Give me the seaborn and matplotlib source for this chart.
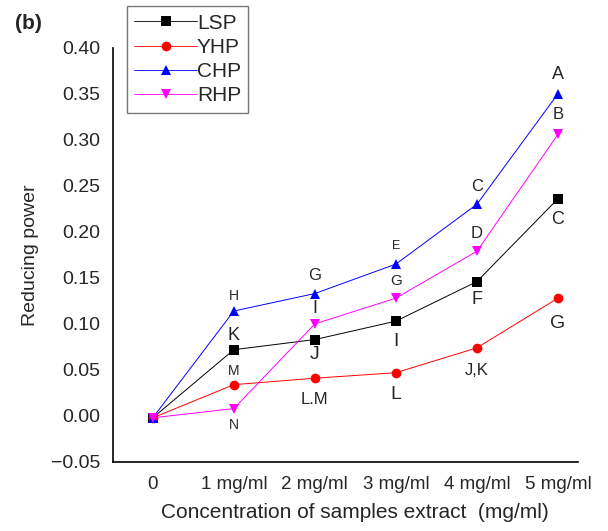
import matplotlib
matplotlib.use('Agg')
import matplotlib.pyplot as plt
import pandas as pd
import seaborn as sns

# Data
concentrations = ['0', '1 mg/ml', '2 mg/ml', '3 mg/ml', '4 mg/ml', '5 mg/ml']
lsp = [-0.002, 0.072, 0.083, 0.103, 0.146, 0.236]
yhp = [-0.002, 0.034, 0.041, 0.047, 0.074, 0.128]
chp = [-0.002, 0.114, 0.133, 0.165, 0.230, 0.350]
rhp = [-0.002, 0.008, 0.100, 0.128, 0.179, 0.306]

# significance letters (index 0 has none)
lsp_letters = ['', 'K', 'J', 'I', 'F', 'C']
yhp_letters = ['', 'M', 'L.M', 'L', 'J,K', 'G']
chp_letters = ['', 'H', 'G', 'E', 'C', 'A']
rhp_letters = ['', 'N', 'I', 'G', 'D', 'B']

series = {'LSP': lsp, 'YHP': yhp, 'CHP': chp, 'RHP': rhp}
colors = {'LSP': 'black', 'YHP': 'red', 'CHP': 'blue', 'RHP': 'magenta'}
markers = {'LSP': 's', 'YHP': 'o', 'CHP': '^', 'RHP': 'v'}

df = pd.DataFrame([
    {'x': i, 'sample': name, 'value': v}
    for name, vals in series.items() for i, v in enumerate(vals)
])

sns.set_style('white')
plt.rcParams['font.family'] = ['Liberation Sans', 'DejaVu Sans']

fig = plt.figure(figsize=(6.08, 5.31), dpi=100)
ax = fig.add_axes([0.186, 0.130, 0.765, 0.780])

sns.lineplot(data=df, x='x', y='value', hue='sample', style='sample',
             palette=colors, markers=markers, dashes=False, linewidth=0.7,
             markersize=7, markeredgewidth=0, ax=ax, legend=False)

# letters: (offset in points, fontsize)
def put(vals, letters, places):
    for i, (v, t) in enumerate(zip(vals, letters)):
        if not t:
            continue
        dy, size = places[i]
        ax.annotate(t, (i, v), xytext=(0, dy), textcoords='offset points',
                    ha='center', va='center', fontsize=size)

put(chp, chp_letters, {1: (11, 10), 2: (13, 12), 3: (13, 9), 4: (13, 12), 5: (14, 13)})
put(rhp, rhp_letters, {1: (-12, 10), 2: (11, 13), 3: (12, 11), 4: (13, 12), 5: (14, 12)})
put(lsp, lsp_letters, {1: (10, 13), 2: (-11, 14), 3: (-15, 14), 4: (-13, 13), 5: (-15, 13)})
put(yhp, yhp_letters, {1: (10, 10), 2: (-15, 12), 3: (-16, 14), 4: (-16, 12), 5: (-18, 14)})

ax.set_xlim(-0.49, 5.25)
ax.set_ylim(-0.05, 0.40)
ax.set_xticks(range(len(concentrations)))
ax.set_xticklabels(concentrations)
ax.set_yticks([-0.05, 0.0, 0.05, 0.10, 0.15, 0.20, 0.25, 0.30, 0.35, 0.40])
ax.set_yticklabels(['\u22120.05', '0.00', '0.05', '0.10', '0.15', '0.20',
                    '0.25', '0.30', '0.35', '0.40'])
ax.tick_params(axis='y', labelsize=14, length=0, pad=9)
ax.tick_params(axis='x', labelsize=13.5, length=0, pad=10)
ax.set_xlabel('Concentration of samples extract  (mg/ml)', fontsize=15, labelpad=9)
ax.xaxis.set_label_coords(0.52, -0.1)
ax.xaxis.label.set_va('top')
ax.set_ylabel('Reducing power', fontsize=14, labelpad=9)
for s in ['top', 'right']:
    ax.spines[s].set_visible(False)
for s in ['left', 'bottom']:
    ax.spines[s].set_color('black')
    ax.spines[s].set_linewidth(1.2)

handles = [plt.Line2D([], [], color=colors[n], marker=markers[n], markersize=7,
                      markeredgewidth=0, linewidth=0.6, label=n) for n in series]
leg = ax.legend(handles=handles, loc='upper left', bbox_to_anchor=(0.03, 1.10),
                borderaxespad=0, fancybox=False, edgecolor='#555555',
                fontsize=15, handlelength=3.0, handletextpad=0.0,
                labelspacing=0.25, borderpad=0.35)
leg.get_frame().set_linewidth(1.0)

fig.text(0.025, 0.955, '(b)', fontsize=15, fontweight='bold', va='center')

fig.savefig('out.png', dpi=100)
